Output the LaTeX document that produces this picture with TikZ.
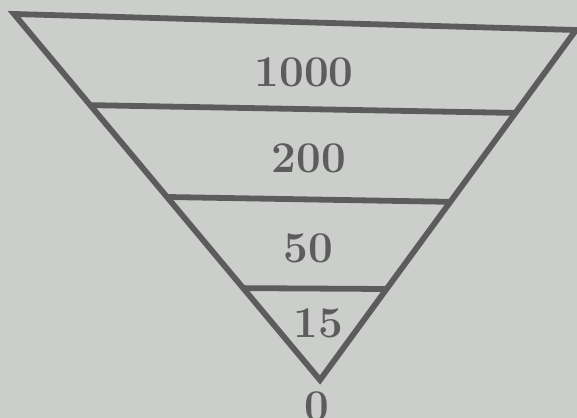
\documentclass[tikz,border=0pt]{standalone}
\usetikzlibrary{calc}
\definecolor{paper}{RGB}{203,206,203}
\definecolor{ink}{RGB}{92,92,92}
\begin{document}
\begin{tikzpicture}[x=0.02cm, y=-0.02cm, every node/.style={font=\fontsize{25}{30}\selectfont\bfseries, text=ink}]
        \fill[paper] (0,0) rectangle (577,418);
        \useasboundingbox (0,0) rectangle (577,418);
        \coordinate (tl) at (14,14);
        \coordinate (tr) at (576,30);
        \coordinate (apex) at (320,380);
        \coordinate (l1) at ($(apex)!0.751!(tl)$);
        \coordinate (r1) at ($(apex)!0.763!(tr)$);
        \coordinate (l2) at ($(apex)!0.500!(tl)$);
        \coordinate (r2) at ($(apex)!0.509!(tr)$);
        \coordinate (l3) at ($(apex)!0.251!(tl)$);
        \coordinate (r3) at ($(apex)!0.260!(tr)$);
        \draw[ink, line width=3.3pt, line join=miter] (tl)--(tr)--(apex)--cycle;
        \draw[ink, line width=3.3pt] (l1)--(r1);
        \draw[ink, line width=3.3pt] (l2)--(r2);
        \draw[ink, line width=3.3pt] (l3)--(r3);
        \node (k1000) at (304,72) {1000};
        \node (k200) at (309,158) {200};
        \node (k50) at (308,248) {50};
        \node (k15) at (318,323) {15};
        \node (k0) at (317,406) {0};
    \end{tikzpicture}
\end{document}
